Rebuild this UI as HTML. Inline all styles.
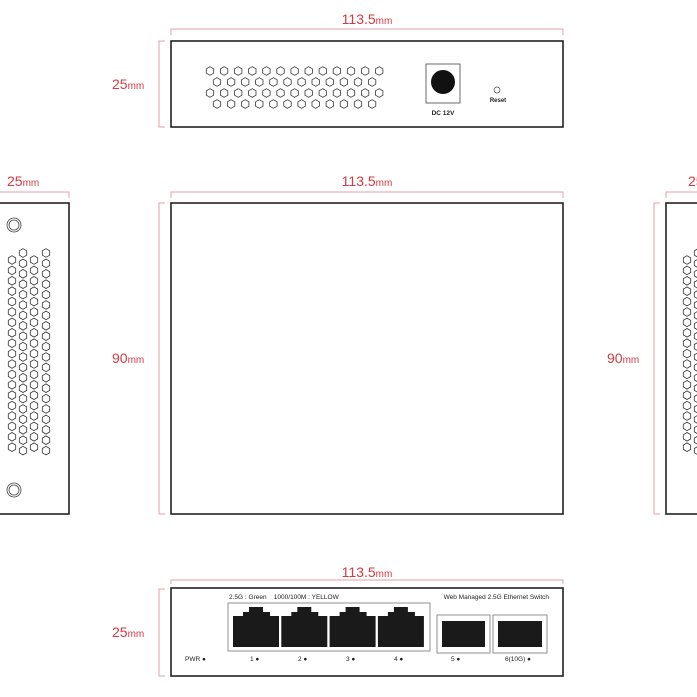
<!DOCTYPE html>
<html><head><meta charset="utf-8"><style>
html,body{margin:0;padding:0;background:#fff;width:697px;height:697px;overflow:hidden}
svg{display:block}
.d{fill:#d23a44;font-family:"Liberation Sans",sans-serif}
.dl{stroke:#e0a2a6;stroke-width:1;fill:none}
.bx{fill:#fff;stroke:#222;stroke-width:1.6}
.t{font-family:"Liberation Sans",sans-serif;fill:#222}
</style></head><body>
<svg id="s" width="697" height="697" viewBox="0 0 697 697" xmlns="http://www.w3.org/2000/svg">
<!-- TOP VIEW (rear) -->
<path class="dl" d="M171,35 V29 H563 V35"/>
<text class="d" x="367" y="24" text-anchor="middle" font-size="14">113.5<tspan font-size="10">mm</tspan></text>
<path class="dl" d="M165,41 H159 V127 H165"/>
<text class="d" x="112" y="89" font-size="14">25<tspan font-size="10">mm</tspan></text>
<rect class="bx" x="171" y="41" width="392" height="86"/>
<g id="hexTop"></g>
<rect x="426" y="64" width="34" height="39" fill="none" stroke="#444" stroke-width="0.8"/>
<circle cx="443" cy="82" r="12" fill="#111"/>
<text class="t" x="443" y="115" font-size="6.5" text-anchor="middle" font-weight="bold">DC 12V</text>
<circle cx="497" cy="90" r="3" fill="none" stroke="#444" stroke-width="0.7"/>
<text class="t" x="498" y="102" font-size="6" text-anchor="middle" font-weight="bold">Reset</text>

<!-- MIDDLE -->
<path class="dl" d="M171,198 V192 H563 V198"/>
<text class="d" x="367" y="186" text-anchor="middle" font-size="14">113.5<tspan font-size="10">mm</tspan></text>
<path class="dl" d="M165,203 H159 V514 H165"/>
<text class="d" x="112" y="363" font-size="14">90<tspan font-size="10">mm</tspan></text>
<rect class="bx" x="171" y="203" width="392" height="311"/>

<!-- LEFT SIDE -->
<path class="dl" d="M0,192 H69 V198"/>
<text class="d" x="7" y="186" font-size="14">25<tspan font-size="10">mm</tspan></text>
<rect class="bx" x="-10" y="203" width="79" height="311"/>
<circle cx="14" cy="225" r="7" fill="none" stroke="#444" stroke-width="0.8"/>
<circle cx="14" cy="225" r="5" fill="none" stroke="#444" stroke-width="0.8"/>
<circle cx="14" cy="490" r="7" fill="none" stroke="#444" stroke-width="0.8"/>
<circle cx="14" cy="490" r="5" fill="none" stroke="#444" stroke-width="0.8"/>
<g id="hexLeft"></g>

<!-- RIGHT SIDE -->
<path class="dl" d="M666,198 V192 H697"/>
<text class="d" x="688" y="186" font-size="14">25<tspan font-size="10">mm</tspan></text>
<path class="dl" d="M660,203 H654 V514 H660"/>
<text class="d" x="607" y="363" font-size="14">90<tspan font-size="10">mm</tspan></text>
<rect class="bx" x="666" y="203" width="50" height="311"/>
<g id="hexRight"></g>

<!-- FRONT -->
<path class="dl" d="M171,584 V580 H563 V584"/>
<text class="d" x="367" y="577" text-anchor="middle" font-size="14">113.5<tspan font-size="10">mm</tspan></text>
<path class="dl" d="M165,589 H159 V676 H165"/>
<text class="d" x="112" y="637" font-size="14">25<tspan font-size="10">mm</tspan></text>
<rect class="bx" x="171" y="588" width="392" height="88"/>
<text class="t" x="229" y="599" font-size="6.5">2.5G : Green &#160;&#160; 1000/100M : YELLOW</text>
<text class="t" x="549" y="599" font-size="6.5" text-anchor="end">Web Managed 2.5G Ethernet Switch</text>
<rect x="228" y="603" width="202" height="48" fill="none" stroke="#777" stroke-width="0.8"/>
<g id="ports"></g>
<rect x="437" y="615" width="53" height="38" fill="none" stroke="#777" stroke-width="0.8"/>
<rect x="442" y="621" width="43" height="26" fill="#1a1a1a"/>
<rect x="493" y="615" width="54" height="38" fill="none" stroke="#777" stroke-width="0.8"/>
<rect x="498" y="621" width="44" height="26" fill="#1a1a1a"/>
<g class="t" font-size="6.5">
<text x="185" y="661">PWR ●</text>
<text x="250" y="661">1 ●</text>
<text x="298" y="661">2 ●</text>
<text x="346" y="661">3 ●</text>
<text x="394" y="661">4 ●</text>
<text x="451" y="661">5 ●</text>
<text x="505" y="661">6(10G) ●</text>
</g>
</svg>
<script>
var NS="http://www.w3.org/2000/svg";
function hex(g,cx,cy,r){var p=[];for(var i=0;i<6;i++){var a=Math.PI/3*i+Math.PI/6;p.push((cx+r*Math.cos(a)).toFixed(1)+","+(cy+r*Math.sin(a)).toFixed(1));}
var e=document.createElementNS(NS,"polygon");e.setAttribute("points",p.join(" "));e.setAttribute("fill","none");e.setAttribute("stroke","#333");e.setAttribute("stroke-width","0.8");g.appendChild(e);}
var g=document.getElementById("hexTop");
var ys=[71,82,93,104];
for(var r=0;r<4;r++){var n=r%2?12:13;var x0=r%2?217:210;for(var i=0;i<n;i++)hex(g,x0+i*14.1,ys[r],4.3);}
g=document.getElementById("hexLeft");
var cols=[[12,260],[23,253],[34,260],[46,253]];
for(var c=0;c<4;c++){var n=c%2?20:19;for(var i=0;i<n;i++)hex(g,cols[c][0],cols[c][1]+i*10.4,4.3);}
g=document.getElementById("hexRight");
var cr=[[687,260],[698,253]];
for(var c=0;c<2;c++){var n=c%2?20:19;for(var i=0;i<n;i++)hex(g,cr[c][0],cr[c][1]+i*10.4,4.3);}
g=document.getElementById("ports");
for(var k=0;k<4;k++){var x=233+k*48.3;var e=document.createElementNS(NS,"path");
e.setAttribute("d","M"+x+",647 V616 H"+(x+10)+" V612 H"+(x+16)+" V607 H"+(x+30)+" V612 H"+(x+37)+" V616 H"+(x+46)+" V647 Z");
e.setAttribute("fill","#1a1a1a");g.appendChild(e);}
</script>
</body></html>
